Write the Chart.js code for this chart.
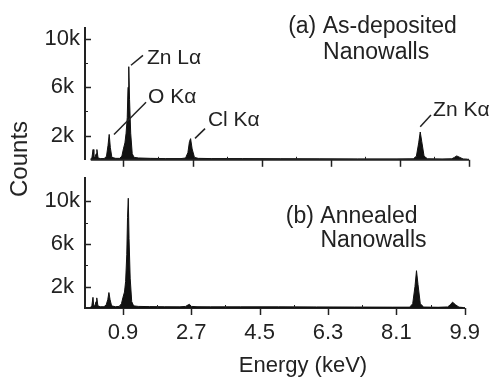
<!DOCTYPE html>
<html>
<head>
<meta charset="utf-8">
<script src="https://cdn.jsdelivr.net/npm/chart.js@4.4.1/dist/chart.umd.min.js"></script>
<style>
  html, body { margin: 0; padding: 0; background: #fff; }
  #wrap { position: relative; width: 492px; height: 378px; overflow: hidden; background: #fff; font-family: "Liberation Sans", Arial, sans-serif; color: #222; }
  canvas { position: absolute; left: 0; }
  #cA { top: 0; }
  #cB { top: 160px; }
  .lbl { position: absolute; white-space: nowrap; line-height: 1; }
  #ylab { left: 19px; top: 159px; font-size: 24px; transform: translate(-50%, -50%) rotate(-90deg); }
  #xlab { left: 303px; top: 354px; font-size: 22px; transform: translateX(-50%); }
</style>
</head>
<body>
<div id="wrap">
  <canvas id="cA" width="492" height="178"></canvas>
  <canvas id="cB" width="492" height="218"></canvas>
  <div class="lbl" id="ylab">Counts</div>
  <div class="lbl" id="xlab">Energy (keV)</div>
</div>
<script>
// ---------- data ----------
const energyA = [0.04,0.08,0.11,0.13,0.16,0.19,0.21,0.24,0.30,0.40,0.46,0.50,0.53,0.56,0.60,0.70,0.80,0.86,0.90,0.94,0.97,1.00,1.02,1.04,1.06,1.09,1.13,1.18,1.30,1.60,2.00,2.40,2.52,2.58,2.62,2.65,2.69,2.75,2.85,3.20,4.00,5.00,6.00,7.00,8.00,8.45,8.53,8.59,8.63,8.67,8.73,8.82,9.20,9.45,9.52,9.58,9.66,9.75,9.85];
const countsA = [50,150,850,150,200,500,850,150,100,100,300,1200,2100,1000,200,120,120,300,900,1400,2200,3500,6000,7700,5000,2200,500,200,150,120,100,100,150,600,1500,1750,900,200,120,100,100,90,80,70,70,80,300,1400,2300,1500,300,80,60,80,200,320,200,60,40];

const energyB = [0.04,0.08,0.11,0.13,0.16,0.19,0.21,0.24,0.30,0.40,0.46,0.50,0.53,0.56,0.60,0.70,0.80,0.86,0.90,0.94,0.97,1.00,1.02,1.04,1.06,1.09,1.13,1.18,1.30,1.60,2.00,2.40,2.55,2.62,2.65,2.70,2.85,3.20,4.00,5.00,6.00,7.00,8.00,8.45,8.53,8.59,8.63,8.67,8.73,8.82,9.20,9.45,9.52,9.58,9.66,9.75,9.85];
const countsB = [50,200,1000,200,200,600,950,200,120,120,300,800,1450,800,200,120,150,400,1000,1500,2500,5000,8500,10300,6500,2800,600,200,150,130,120,110,150,300,350,150,120,110,110,110,100,90,80,80,400,2000,3500,2200,400,90,70,100,300,550,300,80,50];

const xTickValues = [0.9, 2.7, 4.5, 6.3, 8.1, 9.9];
const xTickLabels = ['0.9', '2.7', '4.5', '6.3', '8.1', '9.9'];
const xMinorValues = [1.8, 3.6, 5.4, 7.2, 9.0];
const yTickValues = [2000, 6000, 10000];
const yTickLabels = ['2k', '6k', '10k'];
const yMinorValues = [4000, 8000];

const annotationsA = [
  { text: '(a) As-deposited', x: 5.19, y: 10480, size: 23 },
  { text: 'Nanowalls', x: 6.10, y: 8310, size: 23 },
  { text: 'Zn Lα', x: 1.515, y: 7900, size: 21 },
  { text: 'O Kα', x: 1.54, y: 4680, size: 21 },
  { text: 'Cl Kα', x: 3.10, y: 2820, size: 21 },
  { text: 'Zn Kα', x: 8.965, y: 3630, size: 21 }
];
const leadersA = [
  { x1: 1.098, y1: 7820, x2: 1.41, y2: 8630 },
  { x1: 0.655, y1: 2100, x2: 1.49, y2: 4760 },
  { x1: 2.765, y1: 1770, x2: 3.026, y2: 2580 },
  { x1: 8.63, y1: 2740, x2: 8.91, y2: 3710 }
];
const annotationsB = [
  { text: '(b) Annealed', x: 5.19, y: 7980, size: 23 },
  { text: 'Nanowalls', x: 6.10, y: 5710, size: 23 }
];

// ---------- helpers ----------
const FONT = '"Liberation Sans", Arial, sans-serif';
const INK = '#222';

const decoPlugin = {
  id: 'deco',
  afterDraw(chart, args, o) {
    const { ctx, chartArea, scales: { x, y } } = chart;
    ctx.save();
    ctx.strokeStyle = INK;
    ctx.lineCap = 'butt';
    const line = (a, b, c, d, w) => { ctx.lineWidth = w; ctx.beginPath(); ctx.moveTo(a, b); ctx.lineTo(c, d); ctx.stroke(); };
    const L = chartArea.left, B = chartArea.bottom;
    if (o.xLineFrom !== undefined) line(x.getPixelForValue(o.xLineFrom), B, chartArea.right, B, 2);
    yTickValues.forEach(v => { const p = Math.round(y.getPixelForValue(v)) + 0.5; line(L, p, L + 6, p, 1.5); });
    yMinorValues.forEach(v => { const p = Math.round(y.getPixelForValue(v)) + 0.5; line(L, p, L + 3, p, 1); });
    xTickValues.forEach(v => { const p = Math.round(x.getPixelForValue(v)) + 0.5; line(p, B, p, B + 7, 1.5); });
    xMinorValues.forEach(v => { const p = Math.round(x.getPixelForValue(v)) + 0.5; line(p, B, p, B - 3, 1); });
    (o.leaders || []).forEach(l => line(x.getPixelForValue(l.x1), y.getPixelForValue(l.y1), x.getPixelForValue(l.x2), y.getPixelForValue(l.y2), 1.5));
    ctx.fillStyle = INK;
    ctx.textBaseline = 'alphabetic';
    ctx.textAlign = 'left';
    (o.texts || []).forEach(t => {
      ctx.font = t.size + 'px ' + FONT;
      ctx.fillText(t.text, x.getPixelForValue(t.x), y.getPixelForValue(t.y));
    });
    ctx.restore();
  }
};

function makeChart(id, energy, counts, yMax, xAxisHeight, padTop, showXLabels, deco) {
  return new Chart(document.getElementById(id), {
    type: 'line',
    data: {
      datasets: [{
        data: energy.map((e, i) => ({ x: e, y: counts[i] })),
        borderColor: '#111',
        backgroundColor: '#111',
        borderWidth: 1,
        pointRadius: 0,
        tension: 0,
        fill: 'origin'
      }]
    },
    options: {
      responsive: false,
      animation: false,
      events: [],
      layout: { padding: { top: padTop, right: 23, left: 0, bottom: 0 } },
      plugins: { legend: { display: false }, tooltip: { enabled: false }, deco: deco },
      scales: {
        x: {
          type: 'linear',
          min: -0.1, max: 9.9,
          afterBuildTicks: s => { s.ticks = xTickValues.map(v => ({ value: v })); },
          afterFit: s => { s.height = xAxisHeight; },
          grid: { display: false, drawTicks: false },
          border: { display: !showXLabels ? false : true, color: INK, width: 2 },
          ticks: {
            display: showXLabels,
            padding: 12,
            color: INK,
            font: { family: FONT, size: 22 },
            maxRotation: 0, autoSkip: false,
            callback: (v, i) => xTickLabels[i]
          }
        },
        y: {
          min: 0, max: yMax,
          afterBuildTicks: s => { s.ticks = yTickValues.map(v => ({ value: v })); },
          afterFit: s => { s.width = 85; },
          grid: { display: false, drawTicks: false },
          border: { display: true, color: INK, width: 2 },
          ticks: {
            crossAlign: 'center',
            padding: 5,
            color: INK,
            font: { family: FONT, size: 22 },
            callback: (v, i) => yTickLabels[i]
          }
        }
      }
    },
    plugins: [decoPlugin]
  });
}

makeChart('cA', energyA, countsA, 10900, 15, 28, false,
  { xLineFrom: 0.05, texts: annotationsA, leaders: leadersA });
makeChart('cB', energyB, countsB, 12180, 70, 3, true,
  { texts: annotationsB, leaders: [] });
</script>
</body>
</html>
